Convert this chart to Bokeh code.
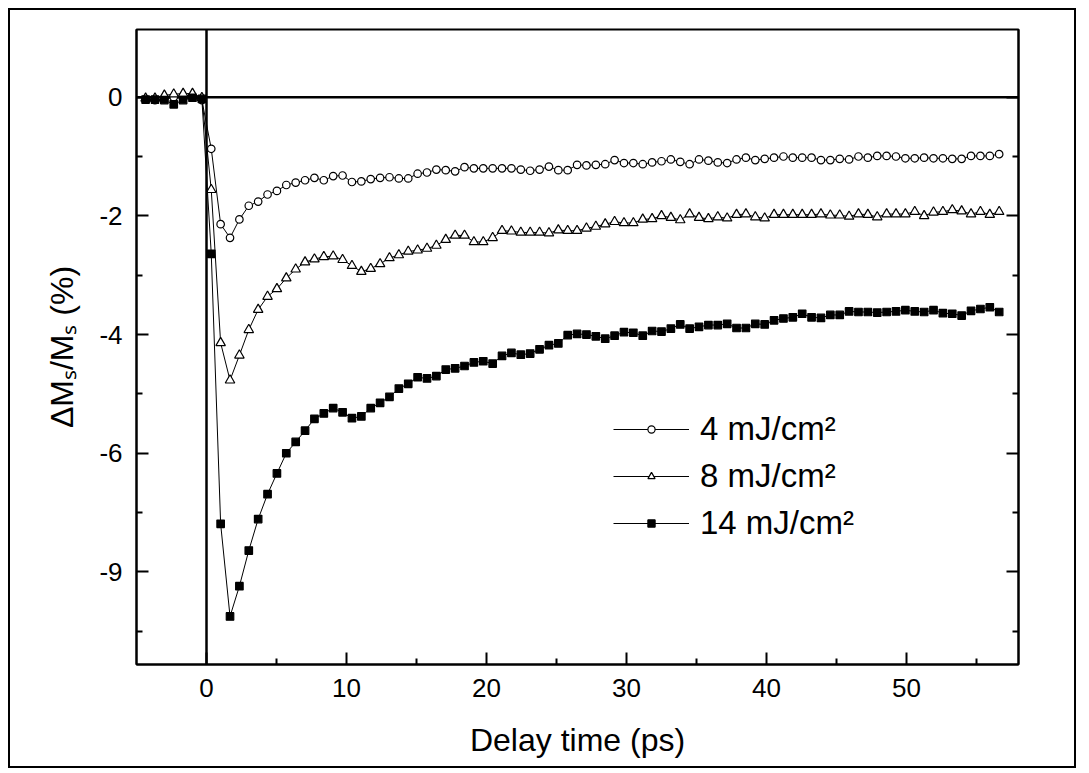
from bokeh.plotting import figure
from bokeh.models import (Range1d, LinearAxis, FixedTicker, Span,
                          Legend, LegendItem)
from bokeh.embed import file_html
from bokeh.resources import INLINE

# ---------------- data ----------------
delay_ps = [-4.35, -3.68, -3.01, -2.34, -1.67, -1.00, -0.33,
            0.34, 1.01, 1.68, 2.35, 3.02, 3.69, 4.36, 5.03, 5.70, 6.37,
            7.04, 7.71, 8.38, 9.05, 9.72, 10.39, 11.06, 11.73, 12.40, 13.07,
            13.74, 14.41, 15.08, 15.75, 16.42, 17.09, 17.76, 18.43, 19.10, 19.77,
            20.44, 21.11, 21.78, 22.45, 23.12, 23.79, 24.46, 25.13, 25.80, 26.47,
            27.14, 27.81, 28.48, 29.15, 29.82, 30.49, 31.16, 31.83, 32.50, 33.17,
            33.84, 34.51, 35.18, 35.85, 36.52, 37.19, 37.86, 38.53, 39.20, 39.87,
            40.54, 41.21, 41.88, 42.55, 43.22, 43.89, 44.56, 45.23, 45.90, 46.57,
            47.24, 47.91, 48.58, 49.25, 49.92, 50.59, 51.26, 51.93, 52.60, 53.27,
            53.94, 54.61, 55.28, 55.95, 56.62]

dm_4mJ = [-0.04, -0.05, -0.03, 0.00, -0.02, -0.01, -0.05,
          -0.87, -2.14, -2.37, -2.06, -1.83, -1.76, -1.64, -1.58, -1.48, -1.44,
          -1.40, -1.36, -1.40, -1.33, -1.32, -1.43, -1.42, -1.38, -1.36, -1.35,
          -1.37, -1.37, -1.29, -1.27, -1.22, -1.23, -1.25, -1.18, -1.20, -1.20,
          -1.20, -1.20, -1.20, -1.22, -1.24, -1.22, -1.17, -1.23, -1.23, -1.14,
          -1.15, -1.14, -1.13, -1.06, -1.11, -1.11, -1.13, -1.10, -1.08, -1.05,
          -1.09, -1.13, -1.05, -1.07, -1.10, -1.11, -1.05, -1.02, -1.06, -1.04,
          -1.02, -1.00, -1.02, -1.02, -1.02, -1.06, -1.06, -1.04, -1.05, -1.00,
          -1.02, -0.99, -0.99, -1.00, -1.03, -1.03, -1.02, -1.03, -1.03, -1.04,
          -1.04, -0.99, -0.99, -0.99, -0.96]

dm_8mJ = [-0.02, -0.02, 0.03, 0.05, 0.06, 0.06, -0.01,
          -1.56, -4.14, -4.77, -4.35, -3.92, -3.58, -3.36, -3.23, -3.05, -2.90,
          -2.78, -2.73, -2.69, -2.68, -2.74, -2.84, -2.94, -2.89, -2.81, -2.71,
          -2.66, -2.60, -2.58, -2.55, -2.50, -2.40, -2.33, -2.33, -2.44, -2.44,
          -2.37, -2.25, -2.26, -2.28, -2.28, -2.28, -2.29, -2.24, -2.25, -2.25,
          -2.21, -2.18, -2.14, -2.10, -2.12, -2.12, -2.06, -2.05, -2.00, -2.03,
          -2.07, -1.97, -2.03, -2.05, -2.02, -2.04, -1.98, -1.97, -2.02, -2.04,
          -1.98, -1.98, -1.98, -1.98, -1.98, -1.97, -1.99, -1.99, -2.01, -1.97,
          -1.98, -2.02, -1.97, -1.97, -1.97, -1.93, -2.00, -1.94, -1.93, -1.90,
          -1.92, -1.97, -1.93, -1.98, -1.93]

dm_14mJ = [-0.04, -0.04, -0.05, -0.12, -0.05, -0.01, -0.03,
           -2.64, -7.19, -8.75, -8.24, -7.64, -7.11, -6.69, -6.34, -6.00, -5.81,
           -5.62, -5.42, -5.33, -5.24, -5.31, -5.41, -5.38, -5.24, -5.15, -5.05,
           -4.91, -4.83, -4.72, -4.74, -4.70, -4.59, -4.57, -4.53, -4.47, -4.45,
           -4.49, -4.36, -4.31, -4.34, -4.32, -4.25, -4.18, -4.15, -4.01, -3.99,
           -4.00, -4.03, -4.07, -4.02, -3.96, -3.97, -4.02, -3.94, -3.95, -3.90,
           -3.83, -3.90, -3.87, -3.84, -3.84, -3.82, -3.89, -3.89, -3.82, -3.83,
           -3.76, -3.73, -3.71, -3.65, -3.71, -3.72, -3.67, -3.67, -3.61, -3.62,
           -3.62, -3.63, -3.62, -3.61, -3.59, -3.61, -3.62, -3.59, -3.64, -3.65,
           -3.68, -3.60, -3.57, -3.54, -3.62]

series_labels = ["4 mJ/cm\u00b2", "8 mJ/cm\u00b2", "14 mJ/cm\u00b2"]

x_major_ticks = [0, 10, 20, 30, 40, 50]
x_minor_ticks = [5, 15, 25, 35, 45, 55]
y_major_ticks = [0, -2, -4, -6, -8]
y_tick_labels = ["0", "-2", "-4", "-6", "-9"]
y_minor_ticks = [-1, -3, -5, -7, -9]

x_title = "Delay time (ps)"
y_title = "\u0394M\u209b/M\u209b (%)"

FONT = "Liberation Sans"

# ---------------- figure ----------------
p = figure(width=1068, height=760,
           x_range=Range1d(-5, 58), y_range=Range1d(-9.56, 1.14),
           output_backend="svg", toolbar_location=None,
           min_border_left=126, min_border_right=60,
           min_border_top=19, min_border_bottom=106)
p.styles = {"border": "2px solid black", "margin-left": "8px",
            "margin-top": "8px"}
p.background_fill_color = "white"
p.border_fill_color = "white"
p.xgrid.visible = False
p.ygrid.visible = False
p.outline_line_color = "black"
p.outline_line_width = 2


def style_axis(ax):
    ax.axis_line_color = "black"
    ax.axis_line_width = 2
    ax.major_tick_line_color = "black"
    ax.major_tick_line_width = 2
    ax.minor_tick_line_color = "black"
    ax.minor_tick_line_width = 2
    ax.major_tick_in = 12
    ax.major_tick_out = 0
    ax.minor_tick_in = 6
    ax.minor_tick_out = 0
    ax.major_label_text_font = FONT
    ax.major_label_text_font_size = "26px"
    ax.major_label_text_color = "black"
    ax.major_label_standoff = 14


def style_title(ax, text, standoff):
    ax.axis_label = text
    ax.axis_label_text_font = FONT
    ax.axis_label_text_font_size = "32px"
    ax.axis_label_text_font_style = "normal"
    ax.axis_label_text_color = "black"
    ax.axis_label_standoff = standoff


xt = FixedTicker(ticks=x_major_ticks, minor_ticks=x_minor_ticks)
yt = FixedTicker(ticks=y_major_ticks, minor_ticks=y_minor_ticks)

xa = p.xaxis[0]
style_axis(xa)
xa.ticker = xt
style_title(xa, x_title, 22)

ya = p.yaxis[0]
style_axis(ya)
ya.ticker = yt
ya.major_label_overrides = dict(zip(y_major_ticks, y_tick_labels))
style_title(ya, y_title, 16)

ra = LinearAxis(ticker=yt)
style_axis(ra)
ra.major_label_text_color = None
ra.major_label_text_font_size = "1px"
p.add_layout(ra, "right")

# zero lines
p.add_layout(Span(location=0, dimension="width", line_color="black",
                  line_width=2.5, level="underlay"))
p.add_layout(Span(location=0, dimension="height", line_color="black",
                  line_width=2.5, level="underlay"))

# ---------------- series ----------------
specs = [(dm_4mJ, "circle", "white", 7.5),
         (dm_8mJ, "triangle", "white", 9.5),
         (dm_14mJ, "square", "black", 7.5)]
items = []
for vals, marker, fill, size in specs:
    ln = p.line(delay_ps, vals, line_color="black", line_width=1)
    sc = p.scatter(delay_ps, vals, marker=marker, size=size, fill_color=fill,
                   line_color="black", line_width=1.2)
    items.append([ln, sc])

legend = Legend(items=[LegendItem(label=lab, renderers=r)
                       for lab, r in zip(series_labels, items)],
                location=(477, 122), orientation="vertical",
                border_line_color=None, background_fill_alpha=0,
                padding=0, margin=0, spacing=9,
                glyph_width=76, glyph_height=18, label_standoff=11,
                label_text_font=FONT, label_text_font_size="33px",
                label_text_color="black")
p.add_layout(legend)

open("out.html", "w").write(file_html(p, INLINE))
